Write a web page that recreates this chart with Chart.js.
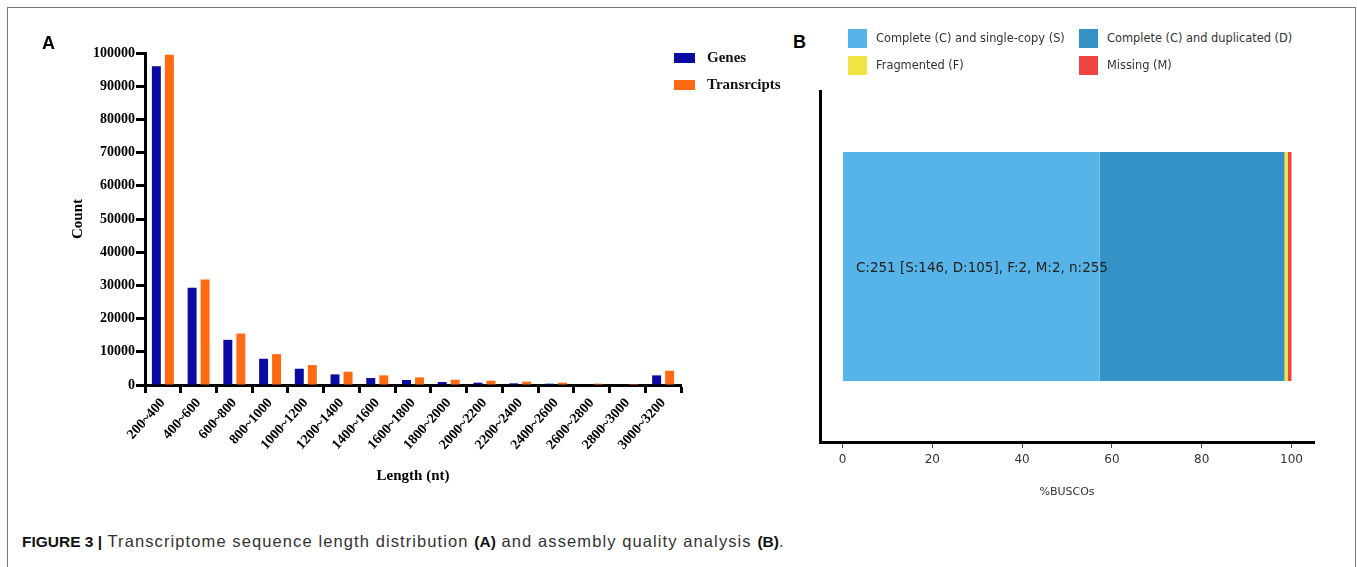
<!DOCTYPE html>
<html><head><meta charset="utf-8">
<script src="https://cdn.jsdelivr.net/npm/chart.js@4.4.0/dist/chart.umd.min.js"></script>
<style>
html,body{margin:0;padding:0;background:#fff;width:1357px;height:567px;overflow:hidden;position:relative;}
#frame{position:absolute;left:7px;top:7px;width:1349px;height:620px;border:1.5px solid #777;box-sizing:border-box;}
canvas{position:absolute;}
#cA{left:0;top:0;}
#cB{left:760px;top:80px;}
.panel{position:absolute;font-family:"Liberation Sans",Arial,sans-serif;font-weight:bold;font-size:18px;color:#000;line-height:1;}
.legA{position:absolute;font-family:"Liberation Serif","Times New Roman",serif;font-weight:bold;font-size:15px;color:#111;line-height:1;white-space:nowrap;}
.legA span.sw{position:absolute;width:21px;height:10px;}
.legB{position:absolute;font-family:"DejaVu Sans",sans-serif;font-size:11.4px;color:#333;line-height:1;white-space:nowrap;}
.legB span.sw{position:absolute;width:19px;height:19px;}
#cap{position:absolute;left:22px;top:533px;font-family:"Liberation Sans",Arial,sans-serif;font-size:15px;color:#333;white-space:nowrap;line-height:1;}
#cap b{color:#111;letter-spacing:0;font-size:15.5px;}
#cap .lt{font-size:16.5px;letter-spacing:1.1px;}
</style></head>
<body>
<div id="frame"></div>
<canvas id="cA" width="720" height="500"></canvas>
<canvas id="cB" width="580" height="440"></canvas>
<div class="panel" style="left:42px;top:34px;">A</div>
<div class="panel" style="left:793px;top:33px;">B</div>
<div id="legendA"></div>
<div id="legendB"></div>
<div id="cap"><b>FIGURE 3 |</b><span class="lt"> Transcriptome sequence length distribution </span><b>(A)</b><span class="lt"> and assembly quality analysis </span><b>(B)</b><span class="lt">.</span></div>
<script>
// ---- Panel A data ----
const lengthBins = ['200~400','400~600','600~800','800~1000','1000~1200','1200~1400','1400~1600','1600~1800','1800~2000','2000~2200','2200~2400','2400~2600','2600~2800','2800~3000','3000~3200'];
const genesCount = [96000, 29300, 13600, 7900, 4900, 3200, 2100, 1500, 900, 700, 500, 400, 150, 100, 2900];
const transcriptsCount = [99500, 31800, 15500, 9300, 6000, 4000, 2900, 2300, 1600, 1300, 1000, 700, 400, 300, 4300];
const seriesNamesA = ['Genes', 'Transrcipts'];
const seriesColorsA = ['#0B0BA3', '#FF6A13'];

// ---- Panel B data ----
const buscoLabels = ['Complete (C) and single-copy (S)', 'Complete (C) and duplicated (D)', 'Fragmented (F)', 'Missing (M)'];
const buscoValues = [57.25, 41.18, 0.78, 0.78];
const buscoColors = ['#56B4E9', '#3492C7', '#F0E442', '#F04442'];
const buscoTicks = [0, 20, 40, 60, 80, 100];
const buscoSummary = 'C:251 [S:146, D:105], F:2, M:2, n:255';

const serifBold = (size) => ({family: "'Liberation Serif','Times New Roman',serif", weight: 'bold', size: size});

const chartA = new Chart(document.getElementById('cA'), {
  type: 'bar',
  data: {
    labels: lengthBins,
    datasets: [
      {label: seriesNamesA[0], data: genesCount, backgroundColor: seriesColorsA[0], borderWidth: 0},
      {label: seriesNamesA[1], data: transcriptsCount, backgroundColor: seriesColorsA[1], borderWidth: 0}
    ]
  },
  options: {
    responsive: false, animation: false,
    layout: {padding: {left: 65, top: 53, right: 39, bottom: 0}},
    plugins: {legend: {display: false}, tooltip: {enabled: false}},
    datasets: {bar: {categoryPercentage: 0.728, barPercentage: 0.69}},
    scales: {
      x: {
        grid: {display: true, drawOnChartArea: false, tickLength: 8, tickWidth: 3, tickColor: '#000'},
        border: {color: '#000', width: 3},
        ticks: {minRotation: 48, maxRotation: 48, autoSkip: false, font: serifBold(14), color: '#000', padding: 2},
        title: {display: true, text: 'Length (nt)', font: serifBold(15), color: '#000', padding: {top: 0, bottom: 15}},
        afterFit: s => { s.height = 115; }
      },
      y: {
        min: 0, max: 100000,
        grid: {display: true, drawOnChartArea: false, tickLength: 9, tickWidth: 3, tickColor: '#000'},
        border: {color: '#000', width: 3},
        ticks: {stepSize: 10000, font: serifBold(14), color: '#000', padding: 1, callback: v => String(v)},
        title: {display: true, text: 'Count', font: serifBold(15), color: '#000', padding: {top: 4, bottom: 0}},
        afterFit: s => { s.width = 80; }
      }
    }
  }
});

// HTML legend for A built from the chart's datasets
(function(){
  const box = document.getElementById('legendA');
  chartA.data.datasets.forEach((ds, i) => {
    const top = 53 + i * 26.5;
    const d = document.createElement('div');
    d.className = 'legA';
    d.style.left = '674px'; d.style.top = top + 'px';
    d.innerHTML = '<span class="sw" style="left:0;top:0;background:' + ds.backgroundColor + '"></span><span style="position:absolute;left:33px;top:-3px;">' + ds.label + '</span>';
    box.appendChild(d);
  });
})();

const buscoText = {
  id: 'buscoText',
  afterDatasetsDraw(chart) {
    const {ctx, scales: {x, y}} = chart;
    ctx.save();
    ctx.font = "13.5px 'DejaVu Sans', sans-serif";
    ctx.fillStyle = '#222';
    ctx.textAlign = 'left';
    ctx.textBaseline = 'middle';
    ctx.fillText(buscoSummary, x.getPixelForValue(3), y.getPixelForValue(0) + 2);
    ctx.restore();
  }
};

const chartB = new Chart(document.getElementById('cB'), {
  type: 'bar',
  data: {
    labels: [''],
    datasets: buscoLabels.map((l, i) => ({label: l, data: [buscoValues[i]], backgroundColor: buscoColors[i], borderWidth: 0}))
  },
  options: {
    indexAxis: 'y', responsive: false, animation: false,
    layout: {padding: {left: 0, top: 11, right: 26, bottom: 0}},
    plugins: {legend: {display: false}, tooltip: {enabled: false}},
    datasets: {bar: {categoryPercentage: 1, barPercentage: 0.653}},
    scales: {
      x: {
        stacked: true, min: -5, max: 105,
        afterBuildTicks: s => { s.ticks = buscoTicks.map(v => ({value: v})); },
        grid: {display: true, drawOnChartArea: false, tickLength: 6, tickWidth: 1, tickColor: '#444'},
        border: {color: '#000', width: 3},
        ticks: {font: {family: "'DejaVu Sans',sans-serif", size: 12}, color: '#333', padding: 5},
        title: {display: true, text: '%BUSCOs', font: {family: "'DejaVu Sans',sans-serif", size: 11}, color: '#333', padding: {top: 0, bottom: 21}},
        afterFit: s => { s.height = 78; }
      },
      y: {
        stacked: true,
        grid: {display: false},
        border: {color: '#000', width: 3},
        ticks: {display: false},
        afterFit: s => { s.width = 60; }
      }
    }
  },
  plugins: [buscoText]
});

// HTML legend for B (2x2) built from the chart's datasets
(function(){
  const box = document.getElementById('legendB');
  chartB.data.datasets.forEach((ds, i) => {
    const col = i % 2, row = Math.floor(i / 2);
    const d = document.createElement('div');
    d.className = 'legB';
    d.style.left = (848 + col * 231) + 'px';
    d.style.top = (29 + row * 27) + 'px';
    d.innerHTML = '<span class="sw" style="left:0;top:0;background:' + ds.backgroundColor + '"></span><span style="position:absolute;left:28px;top:4px;">' + ds.label + '</span>';
    box.appendChild(d);
  });
})();
</script>
</body></html>
